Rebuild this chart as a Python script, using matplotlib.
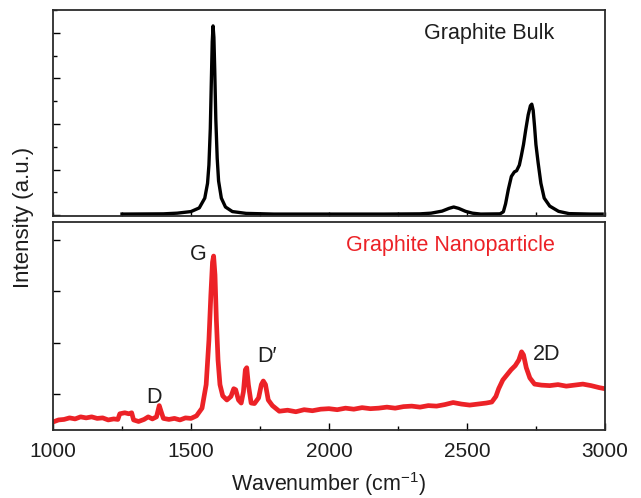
import matplotlib
matplotlib.use("Agg")
import matplotlib.pyplot as plt
from matplotlib.ticker import MultipleLocator

plt.rcParams["font.family"] = ["Liberation Sans", "DejaVu Sans"]
plt.rcParams["mathtext.fontset"] = "custom"
plt.rcParams["mathtext.rm"] = "Liberation Sans"
plt.rcParams["mathtext.it"] = "Liberation Sans:italic"

# graphite bulk spectrum
bulk_x = [1250, 1400, 1450, 1500, 1530, 1550, 1560, 1565, 1570, 1574, 1577,
          1580, 1583, 1586, 1590, 1595, 1600, 1610, 1625, 1650, 1700, 1800,
          2000, 2200, 2330, 2370, 2410, 2435, 2452, 2470, 2495, 2520, 2550,
          2620, 2632, 2640, 2650, 2661, 2672, 2680, 2690, 2697, 2705, 2713,
          2722, 2730, 2735, 2740, 2745, 2750, 2758, 2768, 2780, 2800, 2832,
          2870, 2950, 2990]
bulk_y = [0.05, 0.06, 0.09, 0.16, 0.32, 0.75, 1.40, 2.20, 3.80, 6.00, 7.60,
          8.30, 7.80, 6.40, 4.20, 2.50, 1.50, 0.75, 0.36, 0.16, 0.08, 0.05,
          0.05, 0.05, 0.06, 0.09, 0.18, 0.30, 0.36, 0.30, 0.17, 0.09, 0.05,
          0.06, 0.15, 0.50, 1.13, 1.70, 1.90, 1.95, 2.20, 2.60, 3.10, 3.74,
          4.40, 4.80, 4.87, 4.60, 3.90, 3.10, 2.30, 1.40, 0.75, 0.40, 0.17,
          0.07, 0.05, 0.05]

# graphite nanoparticle spectrum
nano_x = [1000, 1020, 1040, 1060, 1080, 1100, 1120, 1140, 1160, 1180, 1200,
          1220, 1235, 1242, 1260, 1275, 1285, 1292, 1310, 1330, 1345, 1360,
          1375, 1385, 1392, 1400, 1420, 1440, 1460, 1480, 1500, 1520, 1540,
          1555, 1565, 1572, 1578, 1582, 1587, 1592, 1598, 1605, 1615, 1630,
          1645, 1655, 1662, 1672, 1682, 1690, 1697, 1702, 1708, 1718, 1730,
          1745, 1755, 1762, 1770, 1780, 1795, 1820, 1850, 1880, 1910, 1940,
          1970, 2000, 2030, 2060, 2090, 2120, 2150, 2180, 2210, 2240, 2270,
          2300, 2330, 2360, 2390, 2420, 2450, 2480, 2510, 2540, 2570, 2590,
          2605, 2615, 2630, 2645, 2660, 2675, 2688, 2698, 2705, 2715, 2728,
          2745, 2770, 2800, 2830, 2860, 2890, 2920, 2950, 2980, 3000]
nano_y = [0.45, 0.49, 0.50, 0.53, 0.51, 0.55, 0.53, 0.55, 0.52, 0.53, 0.49,
          0.51, 0.50, 0.61, 0.63, 0.61, 0.63, 0.49, 0.46, 0.50, 0.55, 0.51,
          0.55, 0.77, 0.65, 0.52, 0.50, 0.52, 0.49, 0.53, 0.52, 0.57, 0.72,
          1.18, 2.05, 2.93, 3.57, 3.69, 3.32, 2.44, 1.66, 1.18, 0.96, 0.88,
          0.95, 1.10, 1.08, 0.88, 0.82, 1.04, 1.47, 1.51, 1.18, 0.82, 0.81,
          0.92, 1.18, 1.25, 1.18, 0.88, 0.77, 0.66, 0.68, 0.65, 0.69, 0.67,
          0.70, 0.71, 0.69, 0.72, 0.70, 0.73, 0.71, 0.72, 0.74, 0.72, 0.75,
          0.76, 0.74, 0.77, 0.76, 0.79, 0.83, 0.80, 0.78, 0.80, 0.82, 0.84,
          0.95, 1.10, 1.27, 1.37, 1.47, 1.55, 1.66, 1.82, 1.76, 1.51, 1.31,
          1.19, 1.17, 1.16, 1.18, 1.15, 1.17, 1.19, 1.16, 1.12, 1.10]

peak_names = ["G", "D", "D\u2032", "2D"]
peak_label_x = [1525, 1365, 1775, 2790]
peak_label_y = [3.72, 0.92, 1.73, 1.77]

red = "#ec2227"
spine_col = "#2b2b2b"
text_col = "#1e1e1e"
fs = 15.5

fig = plt.figure(figsize=(6.41, 4.98), dpi=100)
ax1 = fig.add_axes([0.0827, 0.566, 0.861, 0.414])
ax2 = fig.add_axes([0.0827, 0.137, 0.861, 0.417])

ax1.plot(bulk_x, bulk_y, color="black", lw=2.4, solid_joinstyle="round")
ax1.set_xlim(1000, 3000)
ax1.set_ylim(-0.04, 9.0)
ax1.yaxis.set_major_locator(MultipleLocator(2))
ax1.yaxis.set_minor_locator(MultipleLocator(1))
ax1.xaxis.set_major_locator(MultipleLocator(250))
ax1.tick_params(axis="y", which="major", direction="in", length=5, width=1,
                left=True, right=False, labelleft=False)
ax1.tick_params(axis="y", which="minor", direction="in", length=3, width=1,
                left=True, right=False)
ax1.tick_params(axis="x", which="both", direction="in", length=3, width=1,
                labelbottom=False)
ax1.text(0.909, 0.885, "Graphite Bulk", transform=ax1.transAxes,
         ha="right", va="center", fontsize=fs, color=text_col)

ax2.plot(nano_x, nano_y, color=red, lw=3.4, solid_joinstyle="round")
ax2.set_xlim(1000, 3000)
ax2.set_ylim(0.298, 4.353)
ax2.yaxis.set_major_locator(MultipleLocator(1))
ax2.xaxis.set_major_locator(MultipleLocator(500))
ax2.xaxis.set_minor_locator(MultipleLocator(250))
ax2.tick_params(axis="y", which="major", direction="in", length=5, width=1,
                left=True, right=False, labelleft=False)
ax2.tick_params(axis="x", which="major", direction="in", length=5, width=1,
                labelsize=15, labelcolor=text_col, pad=9)
ax2.tick_params(axis="x", which="minor", direction="in", length=3, width=1)
ax2.text(0.909, 0.885, "Graphite Nanoparticle", transform=ax2.transAxes,
         ha="right", va="center", fontsize=fs, color=red)
for name, px, py in zip(peak_names, peak_label_x, peak_label_y):
    ax2.text(px, py, name, ha="center", va="center", fontsize=fs,
             color=text_col)
ax2.set_xlabel("Wavenumber (cm$^{-1}$)", fontsize=fs, color=text_col,
               labelpad=6)

for ax in (ax1, ax2):
    for s in ax.spines.values():
        s.set_color(spine_col)
        s.set_linewidth(1.3)

fig.text(0.036, 0.563, "Intensity (a.u.)", rotation=90, ha="center",
         va="center", fontsize=16, color=text_col)

fig.savefig("out.png", dpi=100)
